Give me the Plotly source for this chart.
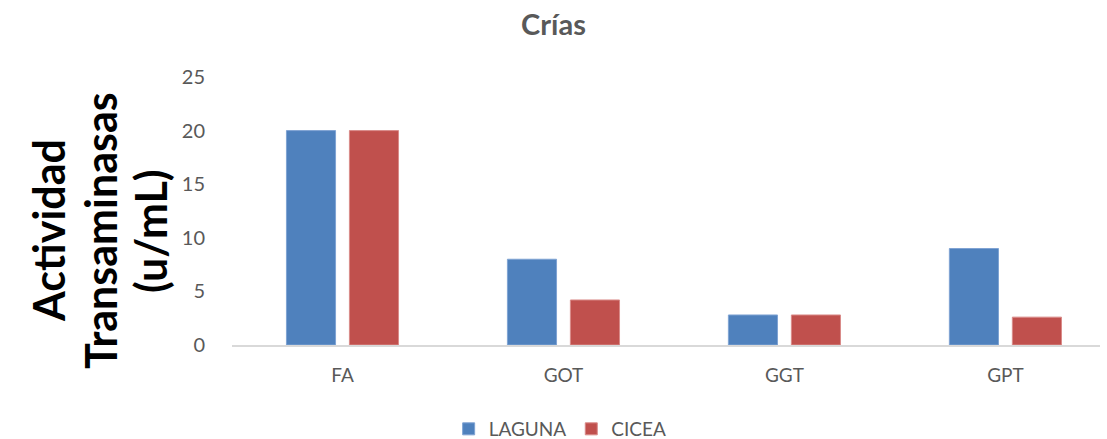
import plotly.graph_objects as go

# datos
categorias = ["FA", "GOT", "GGT", "GPT"]
laguna = [20, 8, 2.8, 9]
cicea = [20, 4.2, 2.8, 2.6]
y_ticks = [0, 5, 10, 15, 20, 25]
titulo_y = ["Actividad", "Transaminasas", "(u/mL)"]

GRIS = "#595959"
FUENTE = "Lato, 'Open Sans', sans-serif"

# área de trazado en píxeles
X0, X1, Y0, Y1 = 232, 1100, 77, 345


def px_x(p):
    return (p - X0) / (X1 - X0)


def px_y(p):
    return (Y1 - p) / (Y1 - Y0)


fig = go.Figure()
fig.add_trace(go.Bar(
    x=categorias, y=laguna, name="LAGUNA",
    marker=dict(color="#4F81BD", line=dict(color="#7FA3D3", width=1)),
))
fig.add_trace(go.Bar(
    x=categorias, y=cicea, name="CICEA",
    marker=dict(color="#C0504D", line=dict(color="#D98B89", width=1)),
))

fig.update_layout(
    width=1107, height=439,
    margin=dict(l=X0, r=1107 - X1, t=Y0, b=439 - Y1, autoexpand=False),
    paper_bgcolor="white", plot_bgcolor="white",
    font=dict(family=FUENTE, color=GRIS, size=19),
    barmode="group", bargap=0.43, bargroupgap=0.22,
    title=dict(text="<b>Crías</b>", x=0.5, xref="container", xanchor="center",
               y=1 - 25 / 439, yref="container", yanchor="middle",
               font=dict(size=29, color=GRIS)),
    legend=dict(orientation="h", xref="container", x=0.506, xanchor="center",
                yref="paper", y=px_y(429), yanchor="middle",
                font=dict(size=19, color=GRIS), itemwidth=30,
                traceorder="normal"),
    showlegend=True,
)

fig.update_xaxes(
    range=[-0.5, 3.428], showline=True, linecolor="#d9d9d9", linewidth=2,
    ticks="outside", ticklen=12, tickcolor="rgba(0,0,0,0)",
    showgrid=False, tickfont=dict(size=19, color=GRIS),
)
fig.update_yaxes(
    range=[0, 25], tickvals=y_ticks, showgrid=False, zeroline=False,
    ticks="outside", ticklen=22, tickcolor="rgba(0,0,0,0)",
    tickfont=dict(size=20, color=GRIS),
)

for texto, cx in zip(titulo_y, [48, 100, 150]):
    fig.add_annotation(
        text="<b>" + texto + "</b>",
        xref="paper", yref="paper", x=px_x(cx), y=px_y(231),
        xanchor="center", yanchor="middle", textangle=-90, showarrow=False,
        font=dict(size=43, color="black", family=FUENTE),
    )

# sin el margen por defecto del body ni la barra de herramientas
fig.write_html("out.html", config={"displayModeBar": False},
               post_script="document.body.style.margin='0';")
